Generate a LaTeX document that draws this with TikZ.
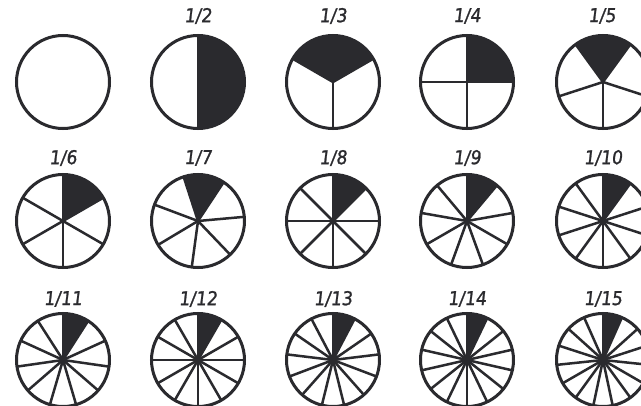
\documentclass[tikz,border=0pt]{standalone}
\usepackage{fontspec}
\newfontfamily\lblfont{DejaVu Sans Condensed}[FakeSlant=0.12, FakeBold=1.2]
\definecolor{ink}{HTML}{2A2A2E}
\newcommand\Rpie{46.5}
\newcommand\fracpie[4]{%
  \fill[ink] (#1,#2) -- ++(#4:\Rpie) arc[start angle=#4, end angle={#4-360/#3}, radius=\Rpie] -- cycle;
  \foreach \k in {1,...,#3} {\draw[spoke] (#1,#2) -- ++({#4-(\k-1)*360/#3}:\Rpie);}
  \draw[rim] (#1,#2) circle[radius=\Rpie];
}
\begin{document}
\begin{tikzpicture}[x=1pt,y=1pt,
  rim/.style={draw=ink, line width=3pt},
  spoke/.style={draw=ink, line width=2.5pt, line cap=round},
  lbl/.style={text=ink, font=\lblfont\fontsize{19}{20}\selectfont, inner sep=0pt}]
\useasboundingbox (0,0) rectangle (641,405);
\clip (0,0) rectangle (641,405);
\fill[white] (0,0) rectangle (641,405);
% row 1
\draw[rim] (63,323) circle[radius=\Rpie];
\fracpie{198}{323}{2}{90}
\fracpie{333}{323}{3}{150}
\fracpie{467}{323}{4}{90}
\fracpie{603}{323}{5}{126}
% row 2
\fracpie{63}{184}{6}{90}
\fracpie{198}{184}{7}{108}
\fracpie{333}{184}{8}{90}
\fracpie{467}{184}{9}{90}
\fracpie{603}{184}{10}{90}
% row 3
\fracpie{63}{45}{11}{90}
\fracpie{198}{45}{12}{90}
\fracpie{333}{45}{13}{90}
\fracpie{467}{45}{14}{90}
\fracpie{603}{45}{15}{90}
% labels
\node[lbl] (l2) at (198,389) {1/2};
\node[lbl] (l3) at (333,389) {1/3};
\node[lbl] (l4) at (467,389) {1/4};
\node[lbl] (l5) at (602,389) {1/5};
\node[lbl] (l6) at (63,247) {1/6};
\node[lbl] (l7) at (198,247) {1/7};
\node[lbl] (l8) at (333,247) {1/8};
\node[lbl] (l9) at (467,247) {1/9};
\node[lbl] (l10) at (603,247) {1/10};
\node[lbl] (l11) at (63,106) {1/11};
\node[lbl] (l12) at (198,106) {1/12};
\node[lbl] (l13) at (333,106) {1/13};
\node[lbl] (l14) at (467,106) {1/14};
\node[lbl] (l15) at (603,106) {1/15};
\end{tikzpicture}
\end{document}
